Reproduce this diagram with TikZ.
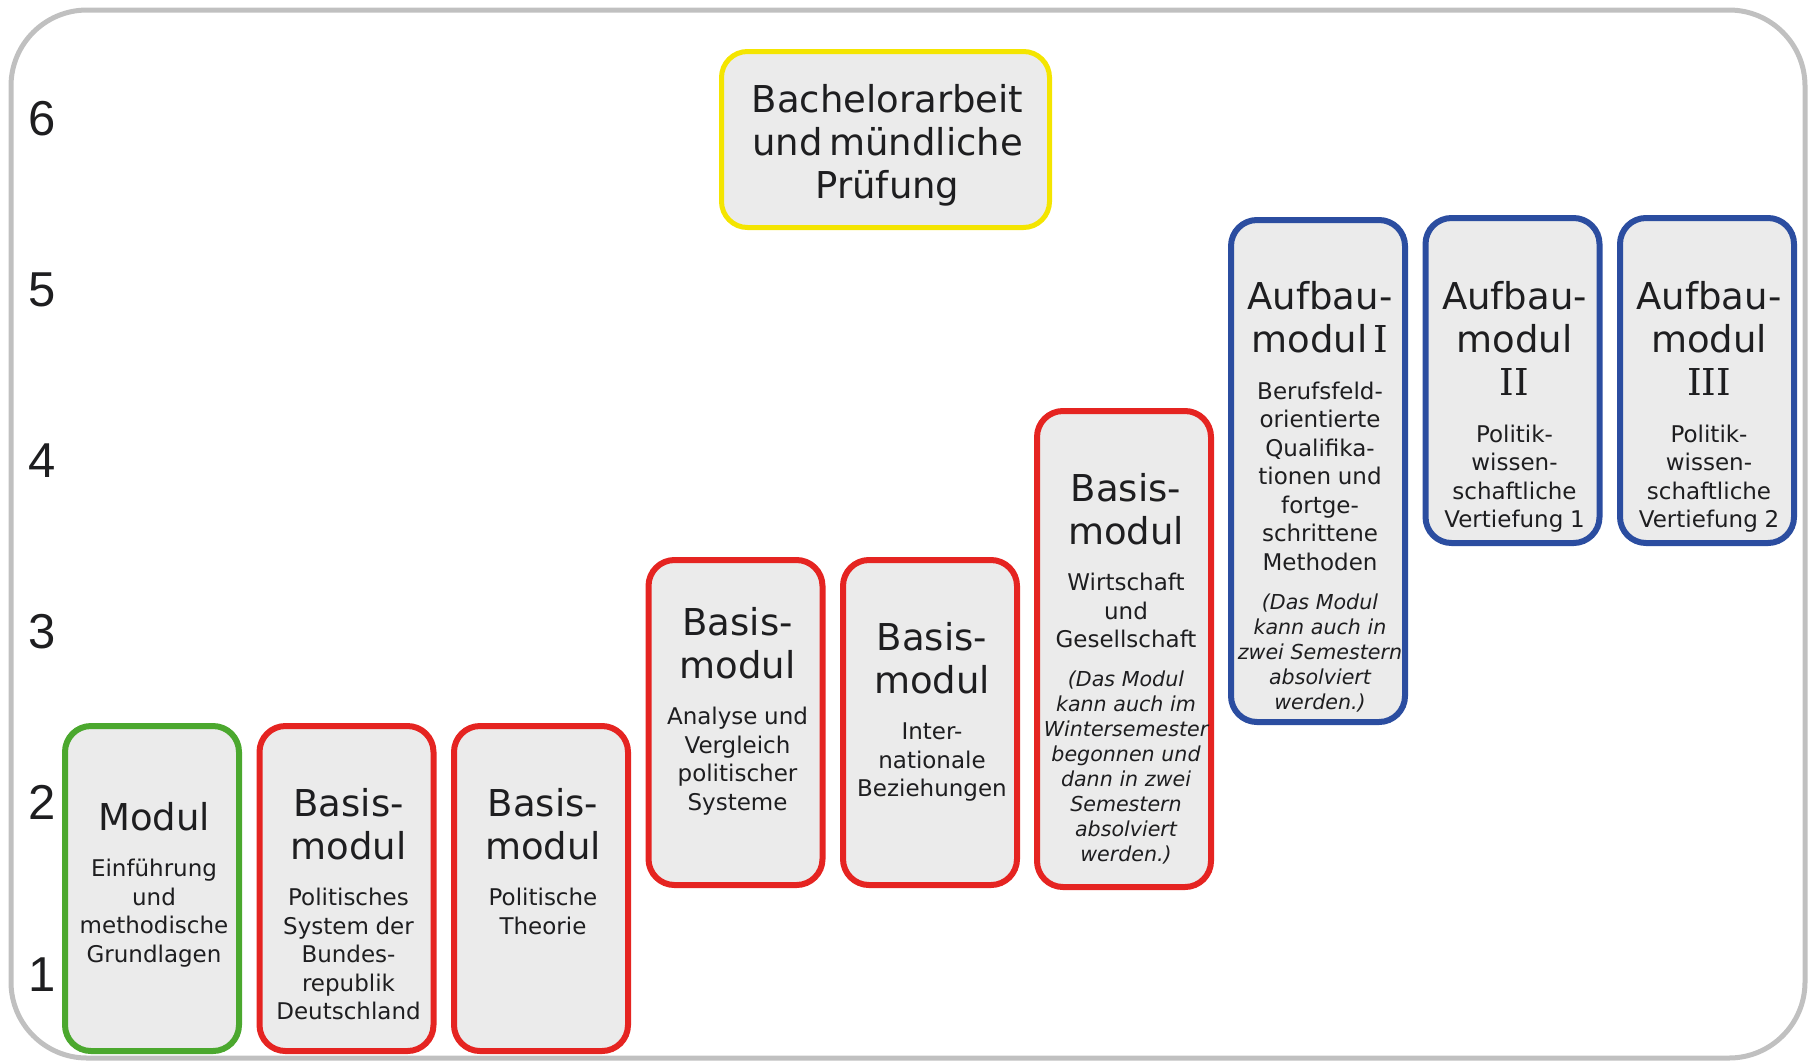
\documentclass[tikz,border=0pt]{standalone}
\usepackage{fontspec}
\setmainfont{DejaVu Sans}
\newfontfamily\ziffernfont{Liberation Sans}
\newfontfamily\roemfont{DejaVu Serif}
\usetikzlibrary{positioning}
\definecolor{basisrot}{RGB}{229,36,33}
\definecolor{einfgruen}{RGB}{75,168,46}
\definecolor{aufbaublau}{RGB}{43,77,160}
\definecolor{abschlussgelb}{RGB}{244,229,0}
\definecolor{boxgrau}{RGB}{235,235,235}
\definecolor{rahmengrau}{RGB}{192,192,192}
\definecolor{schrift}{RGB}{30,30,32}
\setlength{\parindent}{0pt}
% Schriftgruppen in den Modulkaesten
\newcommand{\modtitel}[1]{{\fontsize{18.5pt}{21.5pt}\selectfont\rule{0pt}{15pt}#1\par}}
\newcommand{\modtext}[1]{{\vspace{9pt}\fontsize{11.5pt}{14.25pt}\selectfont #1\par}}
\newcommand{\modhinweis}[1]{{\vspace{7pt}\fontsize{10.3pt}{12.5pt}\itshape #1\par}}
\newcommand{\roem}[1]{{\roemfont #1}}

\begin{document}
\begin{tikzpicture}[x=0.5pt,y=-0.5pt,
    modul/.style={draw,fill=boxgrau,line width=3pt,rounded corners=13pt,
        minimum width=87pt,minimum height=162.5pt,inner sep=0pt},
    modultext/.style={anchor=north,text width=110pt,align=center,inner sep=0pt,
        xshift=1pt,text=schrift},
    semester/.style={anchor=base,inner sep=0pt,text=schrift,
        font=\ziffernfont\fontsize{24.5pt}{28pt}\selectfont}]
    \useasboundingbox (0,0) rectangle (1809,1061);
    % Rahmen
    \draw[rahmengrau,line width=2.5pt,rounded corners=38pt] (11,10) rectangle (1805,1058);
    % Semester
    \foreach \n [count=\i from 0] in {6,5,4,3,2,1} {
        \node[semester] (sem\n) at (42.5,{135+171.2*\i}) {\n};
    }

    % Bachelorarbeit
    \node[modul,draw=abschlussgelb,line width=2.5pt,minimum width=164pt,minimum height=88pt] (ba) at (885.5,139.5) {};
    \node[modultext,text width=160pt] (batext) at (885.5,82) {\modtitel{Bachelorarbeit\\und mündliche\\Prüfung}};

    % Einfuehrung
    \node[modul,draw=einfgruen] (einf) at (152,888.5) {};
    \node[modultext] (einftext) at (152,800) {\modtitel{Modul}\modtext{Einführung\\und\\methodische\\Grundlagen}};

    % Basismodule
    \node[modul,draw=basisrot] (polsys) at (346.5,888.5) {};
    \node[modultext] (polsystext) at (346.5,786) {\modtitel{Basis-\\modul}\modtext{Politisches\\System der\\Bundes-\\republik\\Deutschland}};

    \node[modul,draw=basisrot] (theo) at (541,888.5) {};
    \node[modultext] (theotext) at (541,786) {\modtitel{Basis-\\modul}\modtext{Politische\\Theorie}};

    \node[modul,draw=basisrot] (vergl) at (735.5,722.5) {};
    \node[modultext] (vergltext) at (735.5,605) {\modtitel{Basis-\\modul}\modtext{Analyse und\\Vergleich\\politischer\\Systeme}};

    \node[modul,draw=basisrot] (ib) at (930,722.5) {};
    \node[modultext] (ibtext) at (930,620) {\modtitel{Basis-\\modul}\modtext{Inter-\\nationale\\Beziehungen}};

    \node[modul,draw=basisrot,minimum height=238pt] (wig) at (1124,649) {};
    \node[modultext] (wigtext) at (1124,471) {\modtitel{Basis-\\modul}\modtext{Wirtschaft\\und\\Gesellschaft}%
        \modhinweis{(Das Modul\\kann auch im\\Wintersemester\\begonnen und\\dann in zwei\\Semestern\\absolviert\\werden.)}};

    % Aufbaumodule
    \node[modul,draw=aufbaublau,minimum height=251pt] (auf1) at (1318,471) {};
    \node[modultext] (auf1text) at (1318,279.5) {\modtitel{Aufbau-\\modul \roem{I}}\modtext{Berufsfeld-\\orientierte\\Qualifika-\\tionen und\\fortge-\\schrittene\\Methoden}%
        \modhinweis{(Das Modul\\kann auch in\\zwei Semestern\\absolviert\\werden.)}};

    \node[modul,draw=aufbaublau] (auf2) at (1512.5,380.5) {};
    \node[modultext] (auf2text) at (1512.5,279.5) {\modtitel{Aufbau-\\modul\\\roem{II}}\modtext{Politik-\\wissen-\\schaftliche\\Vertiefung 1}};

    \node[modul,draw=aufbaublau] (auf3) at (1707,380.5) {};
    \node[modultext] (auf3text) at (1707,279.5) {\modtitel{Aufbau-\\modul\\\roem{III}}\modtext{Politik-\\wissen-\\schaftliche\\Vertiefung 2}};
\end{tikzpicture}
\end{document}
